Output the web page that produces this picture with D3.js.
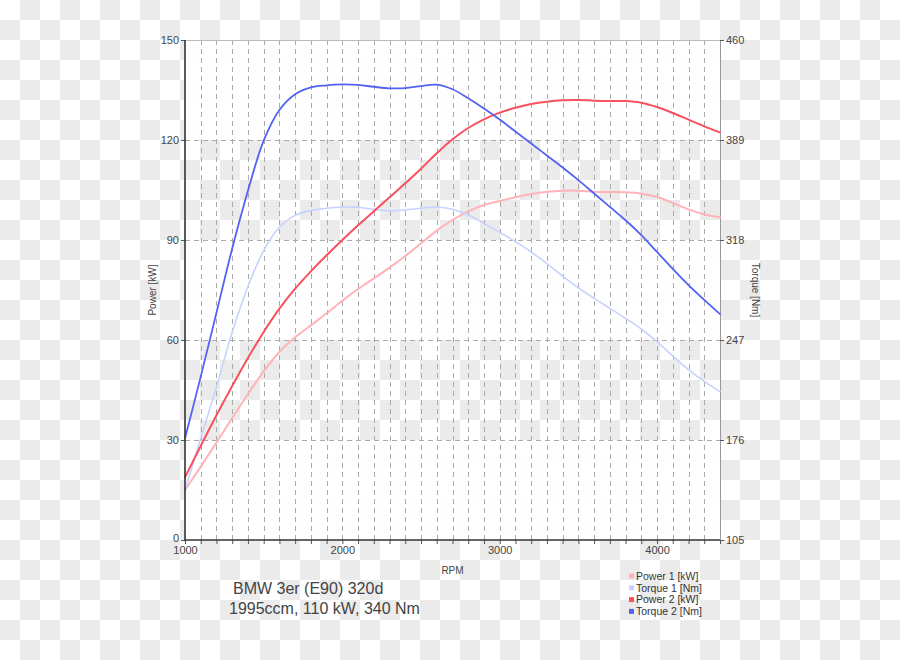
<!DOCTYPE html>
<html>
<head>
<meta charset="utf-8">
<script src="https://cdn.jsdelivr.net/npm/d3@7/dist/d3.min.js"></script>
<style>
  html, body { margin: 0; padding: 0; background: #fff; }
  svg { display: block; font-family: "Liberation Sans", Arial, sans-serif; }
</style>
</head>
<body>
<svg id="chart" width="900" height="660"></svg>
<script>
// ---- data ----
const rpm = [1000,1100,1200,1300,1400,1500,1600,1700,1800,1900,2000,2100,2200,2300,2400,2500,2600,2700,2800,2900,3000,3100,3200,3300,3400,3500,3600,3700,3800,3900,4000,4100,4200,4300,4400];
const power1 = [15.0,22.0,29.2,36.6,43.8,50.6,56.4,60.8,64.4,68.0,71.8,75.3,78.5,81.7,85.2,89.0,92.8,96.0,98.6,100.5,101.7,102.8,103.8,104.5,104.8,104.8,104.5,104.4,104.3,103.9,102.9,101.1,99.2,97.7,96.8];
const torque1 = [140.5,177.2,213.8,252.5,285.0,310.5,327.0,335.5,338.9,340.5,341.4,341.2,339.8,338.8,339.3,340.5,341.4,339.8,335.8,329.8,323.5,316.8,309.5,301.2,292.3,284.0,276.6,269.5,262.4,254.8,245.8,235.6,226.0,217.6,210.3];
const power2 = [18.8,28.2,37.4,46.2,54.6,62.4,69.4,75.4,80.6,85.4,90.0,94.4,98.6,102.8,107.0,111.4,116.0,120.2,123.6,126.2,128.2,129.7,130.8,131.5,131.9,132.0,131.8,131.7,131.7,131.2,129.9,128.1,126.1,124.1,122.3];
const torque2 = [177.2,221.0,266.4,312.0,353.0,388.5,410.3,421.5,426.4,427.8,428.5,428.1,426.8,425.7,425.9,427.3,428.3,425.0,418.6,411.3,403.5,395.0,386.5,378.0,369.5,360.5,351.0,341.5,332.0,321.5,309.5,297.5,286.0,275.5,265.4];
const xTickLabels = [1000,2000,3000,4000];
const xMinorTicks = [1000,1100,1200,1300,1400,1500,1600,1700,1800,1900,2000,2100,2200,2300,2400,2500,2600,2700,2800,2900,3000,3100,3200,3300,3400,3500,3600,3700,3800,3900,4000,4100,4200,4300,4400];
const powerTicks = [0,30,60,90,120,150];
const torqueTicks = [105,176,247,318,389,460];
const seriesNames = ["Power 1 [kW]","Torque 1 [Nm]","Power 2 [kW]","Torque 2 [Nm]"];
const titleLines = ["BMW 3er (E90) 320d","1995ccm, 110 kW, 340 Nm"];

// ---- drawing ----
const svg = d3.select("#chart");
const W = 900, H = 660;
const L = 185, R = 720, T = 40, B = 540;

// checkerboard background
const defs = svg.append("defs");
const pat = defs.append("pattern").attr("id","checker").attr("width",40).attr("height",40).attr("patternUnits","userSpaceOnUse");
pat.append("rect").attr("width",40).attr("height",40).attr("fill","#ffffff");
pat.append("rect").attr("x",20).attr("y",0).attr("width",20).attr("height",20).attr("fill","#ebebeb");
pat.append("rect").attr("x",0).attr("y",20).attr("width",20).attr("height",20).attr("fill","#ebebeb");
svg.append("rect").attr("width",W).attr("height",H).attr("fill","url(#checker)");

const x = d3.scaleLinear().domain([1000,4400]).range([L,R]);
const yP = d3.scaleLinear().domain([0,150]).range([B,T]);
const yT = d3.scaleLinear().domain([105,460]).range([B,T]);

// white bands
const bands = [[120,150],[60,90],[0,30]];
svg.append("g").selectAll("rect").data(bands).join("rect")
  .attr("x",L).attr("width",R-L)
  .attr("y",d=>yP(d[1])).attr("height",d=>yP(d[0])-yP(d[1]))
  .attr("fill","#ffffff").attr("opacity",0.93);

// grid
const grid = svg.append("g").attr("stroke","#aaaaaa").attr("stroke-width",1).attr("stroke-dasharray","5,4").attr("fill","none");
grid.selectAll("line.v").data(xMinorTicks.filter(d=>d>1000 && d<4400)).join("line")
  .attr("x1",d=>Math.round(x(d))+0.5).attr("x2",d=>Math.round(x(d))+0.5)
  .attr("y1",T).attr("y2",B);
grid.selectAll("line.h").data(powerTicks.filter(d=>d>0 && d<150)).join("line")
  .attr("x1",L).attr("x2",R)
  .attr("y1",d=>Math.round(yP(d))+0.5).attr("y2",d=>Math.round(yP(d))+0.5);

// top & right frame
svg.append("line").attr("x1",L).attr("x2",R).attr("y1",T+0.5).attr("y2",T+0.5).attr("stroke","#bbbbbb");
svg.append("line").attr("x1",R+0.5).attr("x2",R+0.5).attr("y1",T).attr("y2",B).attr("stroke","#999999");

// curves
const series = [
  {name:seriesNames[0], vals:power1, y:yP, color:"#ffb3b9", w:2},
  {name:seriesNames[1], vals:torque1, y:yT, color:"#c6d2ff", w:1.6},
  {name:seriesNames[2], vals:power2, y:yP, color:"#f9505e", w:2},
  {name:seriesNames[3], vals:torque2, y:yT, color:"#5262f2", w:1.8}
];
series.forEach(s=>{
  const line = d3.line().x((d,i)=>x(rpm[i])).y(d=>s.y(d)).curve(d3.curveCatmullRom.alpha(0.5));
  svg.append("path").datum(s.vals).attr("d",line)
    .attr("fill","none").attr("stroke",s.color).attr("stroke-width",s.w)
    .attr("stroke-linejoin","round").attr("stroke-linecap","round");
});

// axes
const textColor = "#444444";
const xAxisMinor = svg.append("g").attr("transform",`translate(0,${B})`)
  .call(d3.axisBottom(x).tickValues(xMinorTicks).tickSize(4).tickFormat(""));
xAxisMinor.select(".domain").remove();
xAxisMinor.selectAll("line").attr("stroke","#555");
const xAxis = svg.append("g").attr("transform",`translate(0,${B})`)
  .call(d3.axisBottom(x).tickValues(xTickLabels).tickSize(0).tickPadding(6).tickFormat(d3.format("d")));
xAxis.select(".domain").remove();
xAxis.selectAll("text").attr("font-size",11).attr("fill",textColor).attr("font-family","Liberation Sans, Arial, sans-serif");

const yAxisL = svg.append("g").attr("transform",`translate(${L},0)`)
  .call(d3.axisLeft(yP).tickValues(powerTicks).tickSize(4).tickPadding(2));
yAxisL.select(".domain").remove();
yAxisL.selectAll("line").attr("stroke","#555");
yAxisL.selectAll("text").attr("font-size",11).attr("fill",textColor).attr("font-family","Liberation Sans, Arial, sans-serif");
yAxisL.selectAll(".tick").filter(d=>d===0).select("text").attr("y",-2.5);

const yAxisR = svg.append("g").attr("transform",`translate(${R},0)`)
  .call(d3.axisRight(yT).tickValues(torqueTicks).tickSize(4).tickPadding(2));
yAxisR.select(".domain").remove();
yAxisR.selectAll("line").attr("stroke","#555");
yAxisR.selectAll("text").attr("font-size",11).attr("fill",textColor).attr("font-family","Liberation Sans, Arial, sans-serif");

// axis lines (left & bottom dark)
svg.append("line").attr("x1",L).attr("x2",L).attr("y1",T).attr("y2",B+1).attr("stroke","#333").attr("stroke-width",1.6);
svg.append("line").attr("x1",L).attr("x2",R).attr("y1",B).attr("y2",B).attr("stroke","#333").attr("stroke-width",1.6);

// axis titles
svg.append("text").attr("x",(L+R)/2).attr("y",574).attr("text-anchor","middle")
  .attr("font-size",10).attr("fill",textColor).text("RPM");
svg.append("text").attr("transform",`translate(156,${(T+B)/2}) rotate(-90)`).attr("text-anchor","middle")
  .attr("font-size",10).attr("fill",textColor).text("Power [kW]");
svg.append("text").attr("transform",`translate(752,${(T+B)/2}) rotate(90)`).attr("text-anchor","middle")
  .attr("font-size",10).attr("fill",textColor).text("Torque [Nm]");

// title text
svg.append("text").attr("x",233).attr("y",594).attr("font-size",16).attr("fill","#444").text(titleLines[0]);
svg.append("text").attr("x",229).attr("y",614).attr("font-size",16).attr("fill","#444").text(titleLines[1]);

// legend
const lg = svg.append("g").attr("transform","translate(629,576)");
series.forEach((s,i)=>{
  const row = lg.append("g").attr("transform",`translate(0,${i*11.8})`);
  row.append("rect").attr("x",0).attr("y",-2.5).attr("width",5).attr("height",5).attr("fill",s.color);
  row.append("text").attr("x",7).attr("y",3.8).attr("font-size",10.5).attr("fill","#333").text(s.name);
});
</script>
</body>
</html>
